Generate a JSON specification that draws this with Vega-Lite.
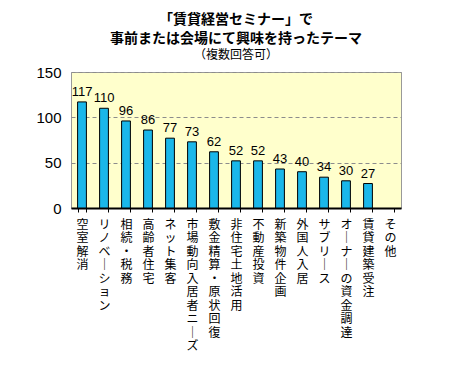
{
  "$schema": "https://vega.github.io/schema/vega-lite/v6.json",
  "autosize": {"type": "none"},
  "padding": {"left": 71, "top": 72, "right": 75, "bottom": 173},
  "width": 330,
  "height": 136,
  "background": "white",
  "title": {
    "text": ["「賃貸経営セミナー」で", "事前または会場にて興味を持ったテーマ"],
    "subtitle": "（複数回答可）",
    "anchor": "middle",
    "font": "Noto Sans CJK JP",
    "fontSize": 14,
    "fontWeight": "bold",
    "lineHeight": 19,
    "color": "black",
    "subtitleFont": "Noto Sans CJK JP",
    "subtitleFontSize": 12,
    "subtitleColor": "black",
    "subtitlePadding": 4,
    "offset": 4
  },
  "data": {
    "values": [
      {"theme": "空室解消", "count": 117},
      {"theme": "リノベーション", "count": 110},
      {"theme": "相続・税務", "count": 96},
      {"theme": "高齢者住宅", "count": 86},
      {"theme": "ネット集客", "count": 77},
      {"theme": "市場動向入居者ニーズ", "count": 73},
      {"theme": "敷金精算・原状回復", "count": 62},
      {"theme": "非住宅土地活用", "count": 52},
      {"theme": "不動産投資", "count": 52},
      {"theme": "新築物件企画", "count": 43},
      {"theme": "外国人入居", "count": 40},
      {"theme": "サブリース", "count": 34},
      {"theme": "オーナーの資金調達", "count": 30},
      {"theme": "賃貸建築受注", "count": 27},
      {"theme": "その他", "count": null}
    ]
  },
  "encoding": {
    "x": {
      "field": "theme",
      "type": "nominal",
      "sort": null,
      "scale": {
        "domain": ["空室解消", "リノベーション", "相続・税務", "高齢者住宅", "ネット集客", "市場動向入居者ニーズ", "敷金精算・原状回復", "非住宅土地活用", "不動産投資", "新築物件企画", "外国人入居", "サブリース", "オーナーの資金調達", "賃貸建築受注", "その他"],
        "paddingInner": 0.6,
        "paddingOuter": 0.3
      },
      "axis": {
        "title": null,
        "labelAngle": 0,
        "labelAlign": "center",
        "labelBaseline": "top",
        "labelPadding": 7,
        "labelFont": "Noto Sans CJK JP",
        "labelFontSize": 12,
        "labelLineHeight": 13.5,
        "labelColor": "black",
        "labelExpr": "split(replace(datum.label, regexp('ー', 'g'), '｜'), '')",
        "domainColor": "black",
        "domainWidth": 2,
        "tickBand": "extent",
        "tickColor": "black",
        "tickSize": 4,
        "labelLimit": 0,
        "labelOverlap": false
      }
    },
    "y": {
      "field": "count",
      "type": "quantitative",
      "scale": {"domain": [0, 150]},
      "axis": {
        "title": null,
        "values": [0, 50, 100, 150],
        "labelFont": "Liberation Sans",
        "labelFontSize": 15,
        "labelColor": "black",
        "labelPadding": 10,
        "ticks": false,
        "domain": false,
        "grid": true,
        "gridColor": "#8c8c8c",
        "gridDash": [4, 3],
        "gridWidth": 1
      }
    }
  },
  "layer": [
    {
      "mark": {"type": "bar", "fill": "#1ab7ea", "stroke": "black", "strokeWidth": 1}
    },
    {
      "mark": {"type": "text", "baseline": "bottom", "dy": -3, "font": "Liberation Sans", "fontSize": 13, "color": "black"},
      "encoding": {"text": {"field": "count", "type": "quantitative"}}
    }
  ],
  "config": {
    "view": {"fill": "#ffffcc", "stroke": "#999999", "strokeWidth": 1},
    "axisY": {"gridOpacity": 1}
  }
}
